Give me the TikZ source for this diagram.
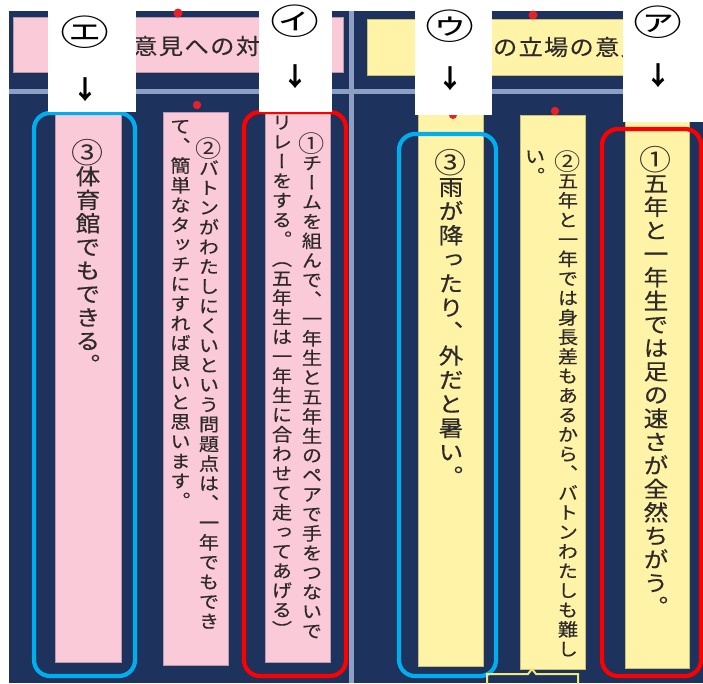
\documentclass[tikz,border=0pt]{standalone}
\usepackage{fontspec}
\newfontfamily\jp{Noto Sans CJK JP}
\newfontfamily\jpv[RawFeature=+vert,FakeStretch=1.12,FakeBold=0.4]{Noto Sans CJK JP}
\newfontfamily\jpl[FakeStretch=1.4]{Noto Sans CJK JP}
\newfontfamily\jph[FakeStretch=1.1,FakeBold=0.3]{Noto Sans CJK JP}
\definecolor{navy}{HTML}{1D325C}
\definecolor{sepline}{HTML}{8DA0C4}
\definecolor{cardpink}{HTML}{FBCAD8}
\definecolor{pinkedge}{HTML}{B99AA8}
\definecolor{cardyellow}{HTML}{FFF3A8}
\definecolor{yellowedge}{HTML}{C9BE78}
\definecolor{inkdark}{HTML}{2E2A2A}
\definecolor{boxcyan}{HTML}{00AEEF}
\definecolor{boxred}{HTML}{FF0000}
\definecolor{pinred}{HTML}{E8202A}
\definecolor{calloutedge}{HTML}{F0E878}
\makeatletter
\def\vc@end{\vc@end}
\newdimen\hr@p
\newcommand\vcol[3]{\vbox{\fontsize{#1}{#2}\selectfont\jpv\baselineskip=#2pt\lineskiplimit=-1000pt\lineskip=0pt\vc@loop#3\vc@end}}
\def\vc@loop#1{\ifx#1\vc@end\else\hbox to 1em{\hss\vrule width 0pt height .88em depth .12em\relax #1\hss}\expandafter\vc@loop\fi}
\newcommand\hrow[3]{\hbox{\fontsize{#1}{#1}\selectfont\jph\hr@p=#2pt\relax\hr@loop#3\vc@end}}
\def\hr@loop#1{\ifx#1\vc@end\else\hbox to\hr@p{\hss#1\hss}\expandafter\hr@loop\fi}
\makeatother
\newcommand\Ci{\raisebox{-.1em}{\scalebox{1.3}{\addfontfeature{FakeBold=0}①}}}
\newcommand\Cii{\raisebox{-.1em}{\scalebox{1.3}{\addfontfeature{FakeBold=0}②}}}
\newcommand\Ciii{\raisebox{-.1em}{\scalebox{1.3}{\addfontfeature{FakeBold=0}③}}}
\tikzset{
  pinkcard/.style={fill=cardpink,draw=pinkedge,line width=0.8pt},
  yellowcard/.style={fill=cardyellow,draw=yellowedge,line width=0.8pt},
  hilite/.style={line width=4.2pt,rounded corners=16pt},
  labelbox/.style={fill=white,draw=none},
  pin/.style={fill=pinred,draw=none},
  vtext/.style={anchor=north,inner sep=0pt,text=inkdark},
  htext/.style={anchor=west,inner sep=0pt,text=inkdark},
  labeltext/.style={inner sep=0pt,text=black}
}
\begin{document}
\begin{tikzpicture}[x=1pt,y=-1pt]
\useasboundingbox (0,0) rectangle (703,683);
\fill[white] (0,0) rectangle (703,683);
% board
\fill[navy] (9,11) rectangle (703,683);
\fill[sepline] (348.5,11) rectangle (354,683);
\fill[sepline] (9,88.5) rectangle (703,93.5);
% headers
\fill[cardpink,draw=pinkedge,line width=0.6pt] (13,17) rectangle (343,72);
\fill[cardyellow,draw=yellowedge,line width=0.6pt] (367,19) rectangle (703,75);
\node[htext] (hleft) at (132.2,46) {\hrow{22}{25.7}{意見への対}};
\node[htext] (hright) at (492.2,47) {\hrow{22}{25.5}{の立場の意見}};
\fill[pin] (178,13) circle (4.5);
\fill[pin] (533,15) circle (4.5);
% cards
\draw[pinkcard] (55,100) rectangle (121,662);
\draw[pinkcard] (163,112) rectangle (228,665);
\draw[pinkcard] (265,100) rectangle (330,662);
\draw[yellowcard] (418,100) rectangle (483,666);
\draw[yellowcard] (520,115) rectangle (585,669);
\draw[yellowcard] (625,110) rectangle (689,668);
\fill[pin] (197,105) circle (4.2);
\fill[pin] (555,111) circle (4.2);
\fill[pin] (453,115) circle (4);
% card texts
\node[vtext] (t3l) at (88,139) {\vcol{22}{23.5}{\Ciii 体育館でもできる。}};
\node[vtext] (t2la) at (209,137) {\vcol{18}{19.7}{\Cii バトンがわたしにくいという問題点は、一年でもでき}};
\node[vtext] (t2lb) at (180.5,117) {\vcol{18}{19.7}{て、簡単なタッチにすれば良いと思います。}};
\node[vtext] (t1la) at (312,132) {\vcol{18}{19.5}{\Ci チームを組んで、一年生と五年生のペアで手をつないで}};
\node[vtext] (t1lb) at (282,113) {\vcol{18}{19.5}{リレーをする。（五年生は一年生に合わせて走ってあげる）}};
\node[vtext] (t3r) at (451,149) {\vcol{22}{24.1}{\Ciii 雨が降ったり、外だと暑い。}};
\node[vtext] (t2ra) at (568,150) {\vcol{18}{19.5}{\Cii 五年と一年では身長差もあるから、バトンわたしも難し}};
\node[vtext] (t2rb) at (535,147) {\vcol{18}{19.5}{い。}};
\node[vtext] (t1r) at (656,146) {\vcol{22}{23.5}{\Ci 五年と一年生では足の速さが全然ちがう。}};
% highlight boxes
\draw[hilite,boxcyan] (34,113) rectangle (135,676);
\draw[hilite,boxred] (244,112) rectangle (346,676);
\draw[hilite,boxcyan] (399,134) rectangle (496,676);
\draw[hilite,boxred] (602,129) rectangle (701,676);
% bottom callout
\draw[calloutedge,line width=2pt] (487,690) -- (487,674) -- (528,674) -- (532,669) -- (536,674) -- (578,674) -- (578,690);
% label boxes
\fill[labelbox] (48,0) rectangle (135.5,112);
\fill[labelbox] (259,0) rectangle (332,112);
\fill[labelbox] (415,0) rectangle (492,115);
\fill[labelbox] (623,0) rectangle (703,122);
\node[labeltext] (le) at (85,32) {\fontsize{35}{35}\selectfont\jpl ㋓};
\node[labeltext] (li) at (295,21) {\fontsize{35}{35}\selectfont\jpl ㋑};
\node[labeltext] (lu) at (450,26) {\fontsize{35}{35}\selectfont\jpl ㋒};
\node[labeltext] (la) at (658,22) {\fontsize{35}{35}\selectfont\jpl ㋐};
\node[labeltext] (ae) at (85,90) {\fontsize{26}{26}\selectfont\jp\bfseries ↓};
\node[labeltext] (ai) at (295,77) {\fontsize{26}{26}\selectfont\jp\bfseries ↓};
\node[labeltext] (au) at (450,79) {\fontsize{26}{26}\selectfont\jp\bfseries ↓};
\node[labeltext] (aa) at (658,76) {\fontsize{26}{26}\selectfont\jp\bfseries ↓};
\end{tikzpicture}
\end{document}
